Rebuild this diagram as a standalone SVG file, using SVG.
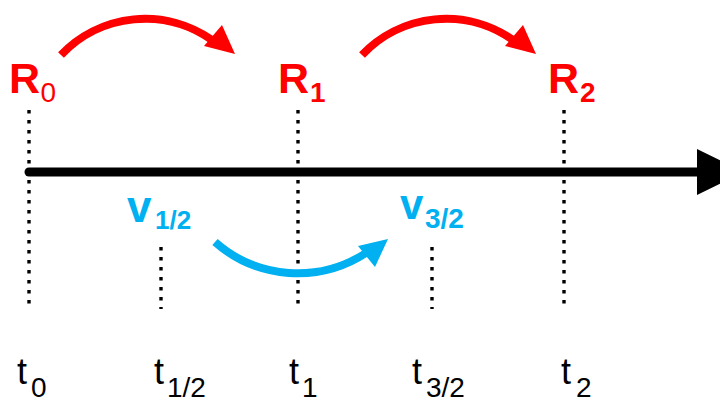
<svg xmlns="http://www.w3.org/2000/svg" width="720" height="403" viewBox="0 0 720 403">
<style>
.dot{stroke:#000;stroke-width:3.4;stroke-dasharray:3.4 6.6;fill:none}
.R{font-family:"Liberation Sans",Arial,sans-serif;font-weight:bold;fill:#FF0000}
.V{font-family:"Liberation Sans",Arial,sans-serif;font-weight:bold;fill:#00B0F0}
.T{font-family:"Liberation Sans",Arial,sans-serif;fill:#000}
.redarc{stroke:#FF0000;stroke-width:8;fill:none}
.bluearc{stroke:#00B0F0;stroke-width:8;fill:none}
</style>
<rect width="720" height="403" fill="#fff"/>
<g id="guides">
<line class="dot" x1="29" y1="110" x2="29" y2="309"/>
<line class="dot" x1="298" y1="110" x2="298" y2="309"/>
<line class="dot" x1="564" y1="110" x2="564" y2="309"/>
<line class="dot" x1="161" y1="247" x2="161" y2="309"/>
<line class="dot" x1="432" y1="247" x2="432" y2="309"/>
</g>
<g id="axis">
<line x1="29" y1="172" x2="700" y2="172" stroke="#000" stroke-width="9" stroke-linecap="round"/>
<polygon points="697,149 744,172 697,195" fill="#000"/>
</g>
<g id="connectors">
<g id="r-arrow-1">
<path class="redarc" d="M61,55 A116,116 0 0 1 212,40"/>
<polygon points="235,54 222,25 204,46" fill="#FF0000"/>
</g>
<g id="r-arrow-2" transform="translate(301,0)">
<path class="redarc" d="M61,55 A116,116 0 0 1 212,40"/>
<polygon points="235,54 222,25 204,46" fill="#FF0000"/>
</g>
<g id="v-arrow">
<path class="bluearc" d="M215,242 A125,125 0 0 0 366,253"/>
<polygon points="388,239 358,246 375,267" fill="#00B0F0"/>
</g>
</g>
<g id="R0"><text class="R" x="9" y="93" font-size="43">R<tspan x="40.5" y="102" font-size="28" font-weight="normal">0</tspan></text></g>
<g id="R1"><text class="R" x="278" y="93" font-size="43">R<tspan x="310" y="102" font-size="28">1</tspan></text></g>
<g id="R2"><text class="R" x="548" y="93" font-size="43">R<tspan x="580" y="102" font-size="28">2</tspan></text></g>
<g id="v12"><text class="V" x="127" y="222" font-size="44">v<tspan x="155" y="229" font-size="26">1/2</tspan></text></g>
<g id="v32"><text class="V" x="400" y="219" font-size="42">v<tspan x="425" y="228" font-size="28">3/2</tspan></text></g>
<g id="t0"><text class="T" x="17" y="384" font-size="36">t<tspan x="31" y="397" font-size="28">0</tspan></text></g>
<g id="t12"><text class="T" x="154" y="384" font-size="36">t<tspan x="167" y="397" font-size="28">1/2</tspan></text></g>
<g id="t1"><text class="T" x="289" y="384" font-size="36">t<tspan x="302" y="397" font-size="28">1</tspan></text></g>
<g id="t32"><text class="T" x="412" y="384" font-size="36">t<tspan x="426" y="397" font-size="28">3/2</tspan></text></g>
<g id="t2"><text class="T" x="561" y="384" font-size="36">t<tspan x="576" y="397" font-size="28">2</tspan></text></g>
</svg>
